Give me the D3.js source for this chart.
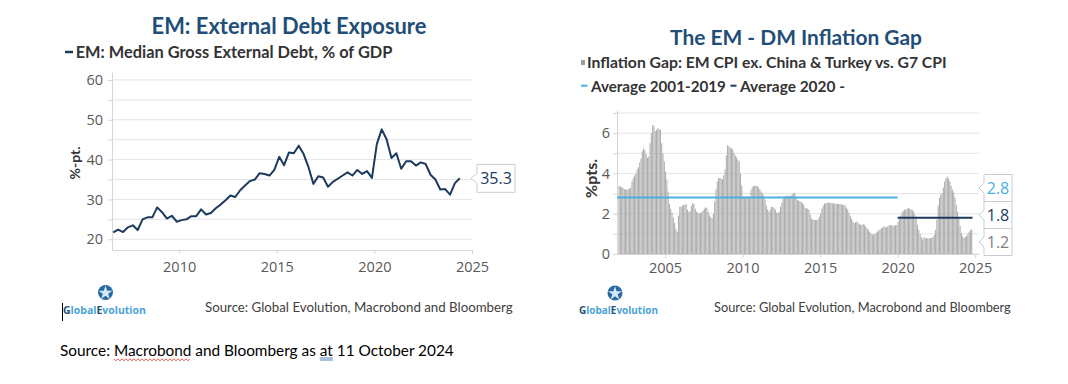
<!DOCTYPE html>
<html><head><meta charset="utf-8">
<script src="https://cdn.jsdelivr.net/npm/d3@7"></script>
<style>body{margin:0;background:#fff} svg{display:block}</style>
</head><body><svg id="c" width="1068" height="384"></svg>
<script>
// ---------------- DATA ----------------
// Left chart: EM median gross external debt, % of GDP (quarterly, 2006Q3 .. 2024Q2)
const debtQuarters = d3.range(0, 72).map(i => {
  const q = 2 + i; // 2006Q3 is index 0
  return (2006 + Math.floor(q / 4)) + "Q" + (q % 4 + 1);
});
const debtValues = [21.7,22.4,21.8,23.0,23.5,22.3,25.0,25.5,25.5,28.0,
  26.8,25.2,25.9,24.4,24.8,25.0,25.8,25.8,27.5,26.2,
  26.6,27.8,28.7,29.8,31.0,30.6,32.3,33.5,34.6,35.0,
  36.6,36.4,36.0,37.4,40.7,38.6,41.8,41.6,43.5,41.4,
  38.1,33.9,35.8,35.5,33.2,34.4,35.2,36.0,36.8,36.0,
  37.4,36.4,37.1,35.4,43.9,47.6,45.1,40.4,41.6,37.7,
  39.6,39.6,38.5,39.3,38.9,36.2,35.0,32.5,32.6,31.2,
  34.1,35.3];
const debtYTicks = [20, 30, 40, 50, 60];
const debtGrid = [20, 25, 30, 35, 40, 45, 50, 55, 60];
const debtXTicks = [2010, 2015, 2020, 2025];

// Right chart: Inflation gap EM CPI ex China & Turkey vs G7 CPI (monthly, 2002-01 .. 2024-10)
const gapYears = d3.range(2002, 2025);
const gapValues = [
  3.38,3.35,3.32,3.28,3.22,3.2,3.2,3.22,3.25,3.3,3.6,3.77,      // 2002
  3.9,4.0,4.2,4.3,4.55,4.75,5.1,5.25,5.15,4.95,4.78,4.84,       // 2003
  5.5,6.0,6.4,6.35,6.1,6.15,6.25,6.2,6.17,5.5,5.0,4.6,          // 2004
  4.1,3.7,3.1,2.5,2.25,2.05,1.8,1.53,1.25,1.1,1.9,2.35,         // 2005
  2.35,2.4,2.44,2.45,2.47,2.2,2.1,2.12,2.4,2.52,2.5,2.25,       // 2006
  2.1,2.05,2.03,2.02,2.1,2.15,2.25,2.32,2.28,2.1,1.92,1.82,     // 2007
  1.78,2.0,2.6,3.2,3.6,3.77,3.77,3.75,3.7,3.9,4.2,4.9,          // 2008
  5.4,5.35,5.28,5.25,5.18,5.0,4.88,4.8,4.67,4.6,4.0,3.4,        // 2009
  2.85,2.8,2.85,2.87,2.78,2.85,3.15,3.3,3.38,3.4,3.38,3.38,     // 2010
  3.3,3.2,3.1,3.0,2.9,2.7,2.4,2.2,2.1,2.2,2.35,2.33,            // 2011
  2.3,2.2,2.05,2.05,2.1,2.35,2.55,2.75,2.85,2.87,2.9,2.88,      // 2012
  2.88,2.9,2.95,3.0,3.04,2.85,2.69,2.65,2.62,2.58,2.52,2.45,    // 2013
  2.3,2.27,2.25,2.19,1.95,1.76,1.7,1.69,1.69,1.69,1.72,1.85,    // 2014
  2.0,2.25,2.4,2.5,2.52,2.55,2.55,2.54,2.53,2.52,2.52,2.5,      // 2015
  2.5,2.49,2.49,2.48,2.47,2.45,2.44,2.4,2.3,2.2,2.05,1.9,       // 2016
  1.75,1.6,1.53,1.57,1.61,1.55,1.48,1.44,1.46,1.48,1.45,1.35,   // 2017
  1.28,1.2,1.1,1.02,0.98,0.95,1.0,1.06,1.12,1.17,1.22,1.28,     // 2018
  1.32,1.36,1.35,1.33,1.38,1.42,1.44,1.42,1.4,1.4,1.43,1.44,    // 2019
  1.6,1.75,1.9,2.05,2.15,2.2,2.22,2.25,2.27,2.25,2.22,2.19,     // 2020
  2.1,1.95,1.75,1.45,1.2,1.0,0.85,0.72,0.83,0.8,0.78,0.78,      // 2021
  0.78,0.78,0.8,0.85,0.95,1.2,1.7,2.4,2.8,2.95,3.02,3.3,        // 2022
  3.6,3.75,3.85,3.75,3.6,3.4,3.2,3.05,2.8,2.45,2.1,1.75,        // 2023
  1.4,1.03,0.88,0.78,0.85,0.9,1.0,1.1,1.18,1.23                 // 2024
];
const gapMonths = gapValues.map((v, i) => gapYears[0] + Math.floor(i / 12) + (i % 12) / 12);
const avgNames = ["Average 2001-2019", "Average 2020 -"];
const avgValues = [2.8, 1.8];
const avgFrom = [2001, 2020];
const avgTo = [2020, 2024.83];
const gapYTicks = [0, 2, 4, 6];
const gapGrid = [0, 1, 2, 3, 4, 5, 6, 7];
const gapXTicks = [2005, 2010, 2015, 2020, 2025];
const gapLastValue = 1.2;

// ---------------- STYLE ----------------
const navy = "#1b3a5e", lightBlue = "#4bb0e3", titleBlue = "#1f4e79";
const gridC = "#e4e4e4", axisC = "#d6d6d6", tickText = "#595959";
const tickFont = "'Open Sans', 'Segoe UI', sans-serif";
const calFont = "Lato, 'Open Sans', sans-serif";

const svg = d3.select("#c");
svg.append("rect").attr("width", 1068).attr("height", 384).attr("fill", "#fff");

function fit(sel, w) {
  const L = sel.node().getComputedTextLength();
  const fs = parseFloat(sel.attr("font-size"));
  sel.attr("font-size", (fs * w / L).toFixed(2));
  return sel;
}
function txt(x, y, s, size, opts = {}) {
  const t = svg.append("text").attr("x", x).attr("y", y).text(s)
    .attr("font-family", opts.font || calFont).attr("font-size", size)
    .attr("font-weight", opts.weight || "normal").attr("fill", opts.fill || "#333")
    .attr("text-anchor", opts.anchor || "start");
  if (opts.w) fit(t, opts.w);
  return t;
}
function callout(g, tipX, cy, boxX, boxW, boxH, label, color, fs) {
  const top = cy - boxH / 2, bot = cy + boxH / 2, n = 5;
  g.append("path")
    .attr("d", `M${boxX},${top}H${boxX + boxW}V${bot}H${boxX}V${cy + n}L${tipX},${cy}L${boxX},${cy - n}Z`)
    .attr("fill", "#fff").attr("stroke", "#c3cdd8").attr("stroke-width", 1);
  g.append("text").attr("x", boxX + boxW / 2).attr("y", cy).attr("dy", "0.36em")
    .attr("text-anchor", "middle").attr("font-family", tickFont).attr("font-size", fs)
    .attr("fill", color).text(label);
}
function styleAxis(g) {
  g.selectAll(".domain").attr("stroke", axisC);
  g.selectAll(".tick line").attr("stroke", axisC);
  g.selectAll(".tick text").attr("fill", tickText).attr("font-family", tickFont).attr("font-size", 14.5);
}

// ---------------- LEFT CHART ----------------
const xL = d3.scaleLinear().domain([2006.56, 2025]).range([112, 472]);
const yL = d3.scaleLinear().domain([17.3, 62]).range([250, 72]);
const debtX = debtQuarters.map(q => +q.slice(0, 4) + (+q.slice(5) - 1) * 0.25 + 0.125);

const gL = svg.append("g");
gL.selectAll("line.grid").data(debtGrid).join("line").attr("class", "grid")
  .attr("x1", xL.range()[0]).attr("x2", xL.range()[1])
  .attr("y1", d => yL(d)).attr("y2", d => yL(d)).attr("stroke", gridC);
const axLy = gL.append("g").attr("transform", `translate(${xL.range()[0]},0)`)
  .call(d3.axisLeft(yL).tickValues(debtGrid).tickSize(4).tickSizeOuter(0).tickPadding(5)
    .tickFormat(d => debtYTicks.includes(d) ? d : ""));
styleAxis(axLy);
const axLx = gL.append("g").attr("transform", `translate(0,${yL.range()[0]})`)
  .call(d3.axisBottom(xL).tickValues(debtXTicks).tickSize(4).tickSizeOuter(0).tickPadding(8)
    .tickFormat(d3.format("d")));
styleAxis(axLx);

gL.append("path").datum(debtValues)
  .attr("d", d3.line().x((d, i) => xL(debtX[i])).y(d => yL(d)))
  .attr("fill", "none").attr("stroke", navy).attr("stroke-width", 2).attr("stroke-linejoin", "round");

const lastDebt = debtValues[debtValues.length - 1];
callout(gL, xL.range()[1] - 1, yL(lastDebt), 477, 38, 28, d3.format(".1f")(lastDebt), navy, 16);

txt(289, 34, "EM: External Debt Exposure", 22, { weight: "bold", fill: titleBlue, anchor: "middle", w: 275 });
svg.append("line").attr("x1", 65).attr("x2", 73).attr("y1", 52).attr("y2", 52).attr("stroke", navy).attr("stroke-width", 2.5);
txt(75.7, 57.7, "EM: Median Gross External Debt, % of GDP", 16, { weight: "bold", fill: "#333", w: 317 });
txt(0, 0, "%-pt.", 16, { weight: "bold", fill: "#333", anchor: "middle", w: 33 })
  .attr("transform", "translate(80,163) rotate(-90)");

// ---------------- RIGHT CHART ----------------
const xR = d3.scaleLinear().domain([2001.9, 2025.25]).range([617, 979]);
const yR = d3.scaleLinear().domain([0, 7.15]).range([254, 110]);
const gR = svg.append("g");
gR.selectAll("line.grid").data(gapGrid).join("line").attr("class", "grid")
  .attr("x1", xR.range()[0]).attr("x2", xR.range()[1])
  .attr("y1", d => yR(d)).attr("y2", d => yR(d)).attr("stroke", gridC);
gR.append("g").selectAll("rect").data(gapValues).join("rect")
  .attr("x", (d, i) => xR(gapMonths[i]))
  .attr("width", (d, i) => xR(gapMonths[i] + 1 / 12) - xR(gapMonths[i]) - 0.25)
  .attr("y", d => yR(d)).attr("height", d => yR(0) - yR(d))
  .attr("fill", "#acacac");
const axRy = gR.append("g").attr("transform", `translate(${xR.range()[0]},0)`)
  .call(d3.axisLeft(yR).tickValues(gapGrid).tickSize(4).tickSizeOuter(0).tickPadding(3)
    .tickFormat(d => gapYTicks.includes(d) ? d : ""));
styleAxis(axRy);
const axRx = gR.append("g").attr("transform", `translate(0,${yR.range()[0]})`)
  .call(d3.axisBottom(xR).tickValues(gapXTicks).tickSize(4).tickSizeOuter(0).tickPadding(5)
    .tickFormat(d3.format("d")));
styleAxis(axRx);

const avgColors = [lightBlue, navy];
avgValues.forEach((v, i) => {
  gR.append("line")
    .attr("x1", xR(Math.max(avgFrom[i], xR.domain()[0]))).attr("x2", xR(avgTo[i]))
    .attr("y1", yR(v)).attr("y2", yR(v)).attr("stroke", avgColors[i]).attr("stroke-width", 2);
});

// stacked value labels at the right edge
const rLabels = [
  { v: avgValues[0], color: lightBlue },
  { v: avgValues[1], color: navy },
  { v: gapLastValue, color: "#7f7f7f" }
];
const bh = 27;
const meanY = d3.mean(rLabels, d => yR(d.v));
let startY = meanY - bh * rLabels.length / 2;
const maxBottom = yR(0) + 1.5;
if (startY + bh * rLabels.length > maxBottom) startY = maxBottom - bh * rLabels.length;
rLabels.forEach((d, i) => {
  callout(gR, xR.range()[1], startY + bh * i + bh / 2, 984, 28, bh, d3.format(".1f")(d.v), d.color, 16);
});

txt(796, 45, "The EM - DM Inflation Gap", 22, { weight: "bold", fill: titleBlue, anchor: "middle", w: 252 });
svg.append("rect").attr("x", 581).attr("y", 60).attr("width", 4).attr("height", 5).attr("fill", "#9a9a9a");
txt(587, 68, "Inflation Gap: EM CPI ex. China & Turkey vs. G7 CPI", 15, { weight: "bold", w: 360 });
svg.append("line").attr("x1", 581).attr("x2", 587.5).attr("y1", 85.7).attr("y2", 85.7).attr("stroke", lightBlue).attr("stroke-width", 2);
txt(591, 92, avgNames[0], 15, { weight: "bold", w: 135 });
svg.append("line").attr("x1", 730.5).attr("x2", 736.5).attr("y1", 85.7).attr("y2", 85.7).attr("stroke", navy).attr("stroke-width", 2);
txt(740, 92, avgNames[1], 15, { weight: "bold", w: 105 });
txt(0, 0, "%pts.", 16, { weight: "bold", fill: "#333", anchor: "middle", w: 39 })
  .attr("transform", "translate(597,178.5) rotate(-90)");

// ---------------- LOGOS & SOURCES ----------------
function logo(cx, cy, tx, tw) {
  svg.append("circle").attr("cx", cx).attr("cy", cy).attr("r", 7.5).attr("fill", "#2a6aa3");
  svg.append("path").attr("d", d3.symbol(d3.symbolStar, 60)())
    .attr("transform", `translate(${cx},${cy + 0.5})`).attr("fill", "#d5e8f7");
  const t = svg.append("text").attr("x", tx).attr("y", 314).attr("font-family", "'Open Sans', sans-serif")
    .attr("font-size", 10).attr("font-weight", "bold");
  t.append("tspan").attr("fill", "#1f4e79").text("G");
  t.append("tspan").attr("fill", "#4aa3d8").text("lobal");
  t.append("tspan").attr("fill", "#1f4e79").text("E");
  t.append("tspan").attr("fill", "#4aa3d8").text("volution");
  fit(t, tw);
}
logo(105.5, 292.5, 63, 83);
logo(615, 293, 579, 79);
svg.append("line").attr("x1", 62.5).attr("x2", 62.5).attr("y1", 303).attr("y2", 321).attr("stroke", "#000").attr("stroke-width", 1);

txt(205, 311.5, "Source: Global Evolution, Macrobond and Bloomberg", 13, { fill: "#404040", w: 308 });
txt(714, 311.5, "Source: Global Evolution, Macrobond and Bloomberg", 13, { fill: "#404040", w: 297 });

const bottomSrc = "Source: Macrobond and Bloomberg as at 11 October 2024";
const bs = txt(60, 356, bottomSrc, 15, { fill: "#000", w: 394 });
const bn = bs.node();
const mStart = bottomSrc.indexOf("Macrobond");
const mx0 = 60 + bn.getSubStringLength(0, mStart);
const mx1 = mx0 + bn.getSubStringLength(mStart, 9);
const wave = d3.range(mx0, mx1, 2).map((x, i) => [x, 359.5 + (i % 2 ? 1.2 : -0.6)]);
svg.append("path").attr("d", d3.line()(wave)).attr("fill", "none").attr("stroke", "#e03030").attr("stroke-width", 0.8);
const aStart = bottomSrc.indexOf(" at ") + 1;
const ax0 = 60 + bn.getSubStringLength(0, aStart);
const ax1 = ax0 + bn.getSubStringLength(aStart, 2);
[358, 360].forEach(y => svg.append("line").attr("x1", ax0).attr("x2", ax1).attr("y1", y).attr("y2", y)
  .attr("stroke", "#2e5fa8").attr("stroke-width", 0.8));
</script></body></html>
